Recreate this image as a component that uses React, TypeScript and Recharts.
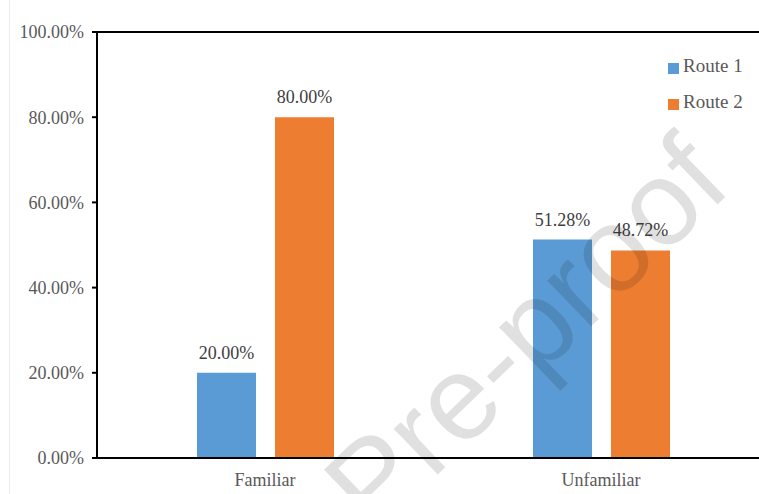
import React from 'react';
import { BarChart, Bar, XAxis, YAxis, Legend, LabelList, ReferenceLine } from 'recharts';

const categories = ['Familiar', 'Unfamiliar'];
const route1 = [20.0, 51.28];
const route2 = [80.0, 48.72];
const yTicks = [0, 20, 40, 60, 80, 100];

const data = categories.map((c, i) => ({ name: c, r1: route1[i], r2: route2[i] }));

const FONT = '"Liberation Serif", "Times New Roman", serif';
const pct = (v: any) => Number(v).toFixed(2) + '%';

export default function App() {
  return (
    <div style={{ position: 'absolute', left: 0, top: 0, width: 759, height: 494, overflow: 'hidden', background: '#fff' }}>
      <div style={{ position: 'absolute', left: 9, top: 0, width: 1, height: 494, background: '#ececec' }} />
      <BarChart
        width={780}
        height={494}
        data={data}
        margin={{ top: 32, right: 11, bottom: 0, left: 0 }}
        barSize={59}
        barGap={19}
        style={{ fontFamily: FONT }}
      >
        <XAxis
          dataKey="name"
          height={36}
          tickLine={false}
          axisLine={{ stroke: '#000', strokeWidth: 2 }}
          tick={{ fill: '#595959', fontSize: 18, fontFamily: FONT }}
          tickMargin={9}
        />
        <YAxis
          width={97}
          domain={[0, 100]}
          ticks={yTicks}
          tickFormatter={pct}
          axisLine={{ stroke: '#000', strokeWidth: 2 }}
          tickLine={{ stroke: '#000', strokeWidth: 2 }}
          tickSize={5}
          tickMargin={8}
          tick={{ fill: '#595959', fontSize: 18, fontFamily: FONT }}
        />
        <ReferenceLine y={100} stroke="#000" strokeWidth={2} />
        <Legend
          layout="vertical"
          verticalAlign="middle"
          align="center"
          iconType="square"
          iconSize={11}
          wrapperStyle={{ top: 48, left: 668, width: 110, lineHeight: '35px', margin: 0 }}
          formatter={(value: string) => <span style={{ color: '#595959', fontSize: 19, fontFamily: FONT }}>{value}</span>}
        />
        <Bar dataKey="r1" name="Route 1" fill="#5B9BD5" isAnimationActive={false}>
          <LabelList dataKey="r1" position="top" offset={14} formatter={pct} fill="#404040" fontSize={18} fontFamily={FONT} />
        </Bar>
        <Bar dataKey="r2" name="Route 2" fill="#ED7D31" isAnimationActive={false}>
          <LabelList dataKey="r2" position="top" offset={14} formatter={pct} fill="#404040" fontSize={18} fontFamily={FONT} />
        </Bar>
      </BarChart>
      <div
        style={{
          position: 'absolute',
          left: 525,
          top: 332,
          transform: 'translate(-50%, -50%) rotate(-44deg)',
          fontFamily: '"Liberation Sans", Arial, sans-serif',
          fontSize: 120,
          color: 'rgba(0,0,0,0.12)',
          whiteSpace: 'nowrap',
          pointerEvents: 'none',
          lineHeight: 1,
        }}
      >
        Pre-proof
      </div>
    </div>
  );
}
